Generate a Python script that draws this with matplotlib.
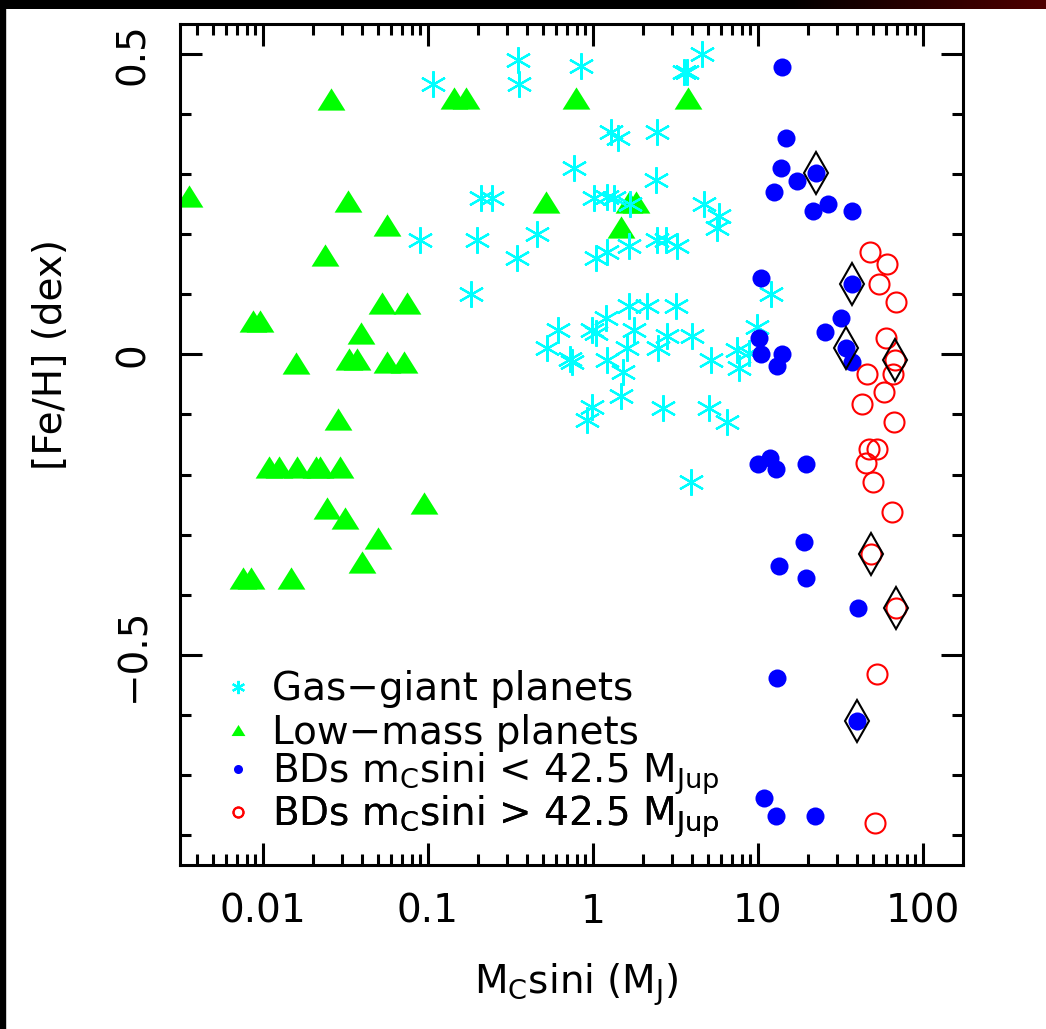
import matplotlib
matplotlib.use('Agg')
import matplotlib.pyplot as plt
import numpy as np
from matplotlib.ticker import MultipleLocator, NullFormatter

plt.rcParams['font.family'] = ['DejaVu Sans']
plt.rcParams['mathtext.default'] = 'regular'

# gas-giant planets (cyan asterisks)
gasMass = [0.107, 0.351, 0.356, 0.846, 3.56, 3.71, 4.58, 1.29, 1.42, 2.44,
           0.767, 2.41, 0.210, 0.244, 1.01, 1.22, 1.34, 1.68, 4.71, 5.80,
           5.64, 0.0895, 0.198, 0.458, 0.346, 1.04, 1.22, 1.65, 2.44, 2.77,
           3.23, 0.182, 12.0, 1.65, 2.12, 3.18, 1.20, 0.614, 0.986, 1.04,
           1.77, 2.81, 3.98, 9.86, 0.526, 0.726, 0.746, 1.22, 1.61, 2.48,
           1.52, 5.19, 7.46, 7.67, 8.82, 0.986, 0.920, 1.48, 2.66, 5.05,
           6.49, 3.93]
gasFeH = [0.45, 0.49, 0.45, 0.48, 0.47, 0.47, 0.50, 0.37, 0.36, 0.37,
          0.31, 0.29, 0.26, 0.26, 0.26, 0.262, 0.26, 0.25, 0.25, 0.23,
          0.21, 0.19, 0.19, 0.20, 0.16, 0.16, 0.17, 0.18, 0.19, 0.19,
          0.18, 0.10, 0.10, 0.08, 0.08, 0.08, 0.06, 0.04, 0.04, 0.035,
          0.04, 0.03, 0.03, 0.045, 0.01, -0.008, -0.012, -0.01, 0.01, 0.01,
          -0.03, -0.01, 0.008, -0.022, 0.003, -0.088, -0.11, -0.07, -0.09, -0.09,
          -0.112, -0.212]

# low-mass planets (green triangles)
lowMass = [0.00356, 0.0258, 0.0327, 0.0565, 0.0238, 0.144, 0.170, 0.0526,
           0.0746, 0.00869, 0.00959, 0.0393, 0.0158, 0.0332, 0.0371, 0.0565,
           0.0716, 0.0285, 0.0109, 0.0125, 0.0161, 0.0210, 0.0222, 0.0293,
           0.0946, 0.0244, 0.0314, 0.0498, 0.0398, 0.00757, 0.00846, 0.0148,
           0.519, 0.789, 3.77, 1.65, 1.82, 1.48]
lowFeH = [0.263, 0.425, 0.255, 0.215, 0.165, 0.427, 0.427, 0.085,
          0.085, 0.055, 0.055, 0.035, -0.015, -0.007, -0.007, -0.013,
          -0.013, -0.107, -0.188, -0.188, -0.188, -0.188, -0.188, -0.188,
          -0.247, -0.255, -0.273, -0.305, -0.345, -0.373, -0.373, -0.373,
          0.253, 0.427, 0.427, 0.253, 0.253, 0.212]

# brown dwarfs below 42.5 MJup (blue filled circles)
bdLowMass = [14.0, 14.8, 13.8, 17.2, 22.5, 12.5, 21.5, 26.6, 37.1, 10.4,
             37.1, 31.8, 25.5, 10.1, 34.1, 10.4, 14.0, 37.1, 13.0, 10.0,
             11.8, 12.9, 19.5, 19.0, 13.4, 19.5, 40.4, 13.0, 39.8, 10.9,
             12.9, 22.1]
bdLowFeH = [0.478, 0.36, 0.31, 0.288, 0.302, 0.27, 0.238, 0.25, 0.238, 0.128,
            0.118, 0.06, 0.038, 0.028, 0.01, 0.0, 0.0, -0.012, -0.02, -0.182,
            -0.172, -0.19, -0.182, -0.312, -0.352, -0.372, -0.422, -0.538, -0.61, -0.738,
            -0.768, -0.768]

# brown dwarfs above 42.5 MJup (red open circles)
bdHighMass = [47.7, 60.5, 54.1, 68.6, 59.7, 67.6, 65.8, 45.8, 58.1, 42.7,
              66.7, 47.1, 52.6, 45.2, 49.8, 64.9, 48.4, 68.6, 52.6, 51.2]
bdHighFeH = [0.17, 0.15, 0.118, 0.088, 0.028, -0.01, -0.032, -0.032, -0.062, -0.082,
             -0.112, -0.157, -0.158, -0.18, -0.212, -0.262, -0.332, -0.422, -0.532, -0.78]

# highlighted objects (black diamonds)
diaMass = [22.5, 37.1, 34.1, 67.6, 48.4, 68.6, 39.8]
diaFeH = [0.302, 0.118, 0.01, -0.01, -0.332, -0.422, -0.61]

fs = 28

fig = plt.figure(figsize=(10.46, 10.29), dpi=100)
fig.patch.set_facecolor('white')

# dark slide border at the top and left
band = fig.add_axes([0, 1 - 9 / 1029, 1, 9 / 1029])
grad = np.clip((np.linspace(0, 1, 400) - 0.75) / 0.25, 0, 1)[None, :]
band.imshow(grad, aspect='auto', cmap=matplotlib.colors.LinearSegmentedColormap.from_list(
    'edge', ['black', '#4e0000']), vmin=0, vmax=1)
band.axis('off')
fig.patches.append(matplotlib.patches.Rectangle((0, 0), 5 / 1046, 1, transform=fig.transFigure,
                                                color='black', zorder=10))

ax = fig.add_axes([180 / 1046, 1 - 865 / 1029, 783 / 1046, 841 / 1029])

triangle = [(-1, -0.8), (1, -0.8), (0, 0.8)]
lowLine, = ax.plot(lowMass, lowFeH, ls='none', marker=triangle, ms=20, mew=0, color='#00ff00',
                   zorder=2)
gasLine, = ax.plot(gasMass, gasFeH, ls='none', marker=(6, 2, 0), ms=19, mew=1.6, color='#00ffff',
                   zorder=3)
bdLowLine, = ax.plot(bdLowMass, bdLowFeH, ls='none', marker='o', ms=13, mew=0, color='#0000ff',
                     zorder=4)
bdHighLine, = ax.plot(bdHighMass, bdHighFeH, ls='none', marker='o', ms=14.4, mew=1.5, mfc='none',
                      mec='#ff0000', zorder=5)
ax.plot(diaMass, diaFeH, ls='none', marker='d', ms=21, mew=1.5, mfc='none', mec='black', zorder=6)

ax.set_xscale('log')
ax.set_xlim(0.00314, 175)
ax.set_ylim(-0.85, 0.55)

ax.set_xticks([0.01, 0.1, 1, 10, 100])
ax.set_xticklabels(['0.01', '0.1', '1', '10', '100'])
ax.xaxis.set_minor_formatter(NullFormatter())
ax.set_yticks([-0.5, 0, 0.5])
ax.set_yticklabels(['\u22120.5', '0', '0.5'])
ax.yaxis.set_minor_locator(MultipleLocator(0.1))

ax.tick_params(which='both', direction='in', top=True, right=True, width=2.2, labelsize=fs)
ax.tick_params(which='major', length=16, pad=20)
ax.tick_params(which='minor', length=8)
ax.tick_params(axis='y', labelrotation=90)
for lab in ax.get_yticklabels():
    lab.set_va('center')
for sp in ax.spines.values():
    sp.set_linewidth(2.2)

ax.set_xlabel(r'M$_{C}$sini (M$_{J}$)', fontsize=fs)
ax.set_ylabel('[Fe/H] (dex)', fontsize=fs)
ax.xaxis.set_label_coords(0.506, -0.115)
ax.yaxis.set_label_coords(-0.14, 0.6076)

# one legend per row so the rows keep an even spacing
entries = [(gasLine, 'Gas\u2212giant planets', 0.2313),
           (lowLine, 'Low\u2212mass planets', 0.1801),
           (bdLowLine, r'BDs m$_{C}$sini < 42.5 M$_{Jup}$', 0.1367),
           (bdHighLine, r'BDs m$_{C}$sini > 42.5 M$_{Jup}$', 0.0856)]
for handle, text, ytop in entries:
    leg = ax.legend([handle], [text], loc='upper left', bbox_to_anchor=(0.0536, ytop),
                    frameon=False, fontsize=fs, markerscale=0.5, handlelength=0.8,
                    handletextpad=0.48, borderpad=0, borderaxespad=0, numpoints=1)
    ax.add_artist(leg)

fig.savefig('out.png', dpi=100)
